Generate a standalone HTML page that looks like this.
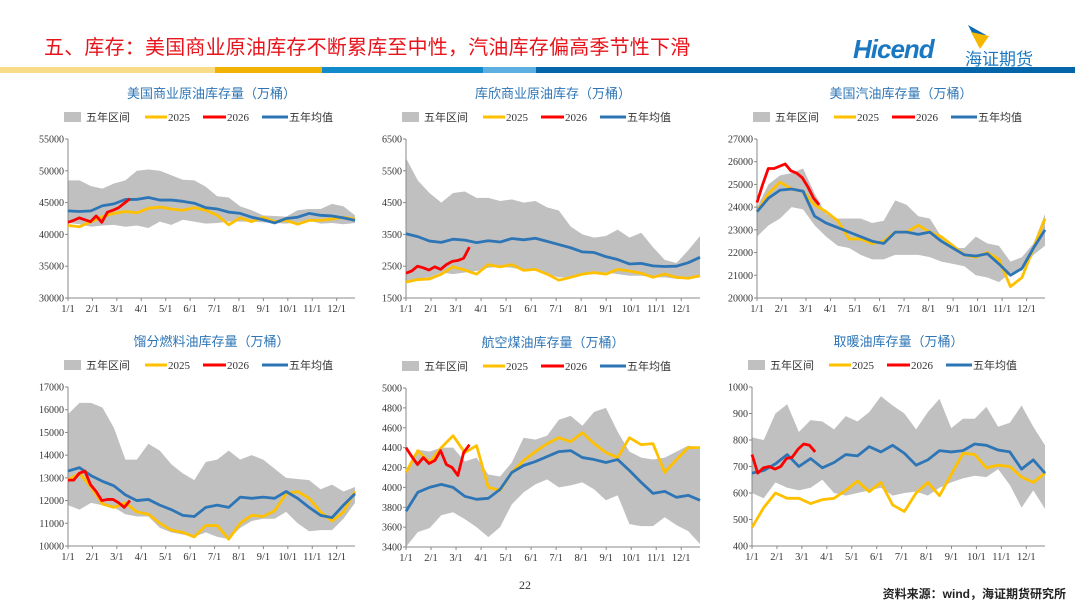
<!DOCTYPE html>
<html><head><meta charset="utf-8">
<style>
html,body{margin:0;padding:0;background:#fff;}
body{width:1080px;height:607px;position:relative;overflow:hidden;font-family:"Liberation Sans","Noto Sans CJK SC",sans-serif;}
.abs{position:absolute;}
</style></head>
<body>
<div class="abs" style="left:44px;top:31px;font-size:20px;color:#e8141c;font-family:'Liberation Sans','Noto Sans CJK SC',sans-serif;white-space:nowrap;letter-spacing:0.2px;">五、库存：美国商业原油库存不断累库至中性，汽油库存偏高季节性下滑</div>
<div class="abs" style="left:850px;top:20px;width:220px;height:45px;">
  <svg width="220" height="45"><polygon points="118,5 136,15 129,26" fill="#0a6ab4"/><polygon points="121,12 139,16 130,29" fill="#f5b800"/></svg>
  <div class="abs" style="left:3px;top:14px;font-size:26px;font-style:italic;font-weight:bold;color:#1a78c2;letter-spacing:-1px;">Hicend</div>
  <div class="abs" style="left:115px;top:25px;font-size:17px;color:#1a78c2;">海证期货</div>
</div>
<div class="abs" style="left:0;top:67px;width:1080px;height:6px;">
  <div class="abs" style="left:0;width:215px;height:6px;background:#f9dc8a"></div>
  <div class="abs" style="left:215px;width:107px;height:6px;background:#f2b200"></div>
  <div class="abs" style="left:322px;width:161px;height:6px;background:#108ac8"></div>
  <div class="abs" style="left:483px;width:53px;height:6px;background:#5cafe0"></div>
  <div class="abs" style="left:536px;width:539px;height:6px;background:#0366a8"></div>
</div>
<svg id="charts" class="abs" style="left:0;top:0" width="1080" height="607"></svg>
<div class="abs" style="left:519px;top:578px;font-size:12px;color:#333;font-family:'Liberation Serif',serif;">22</div>
<div class="abs" style="right:14px;top:585px;font-size:12px;color:#222;font-weight:bold;">资料来源：wind，海证期货研究所</div>
<script>
const months=["1/1","2/1","3/1","4/1","5/1","6/1","7/1","8/1","9/1","10/1","11/1","12/1"];
// Panel 1: US commercial crude
const p1Ticks=[30000,35000,40000,45000,50000,55000];
const p1Lo=[41800,41600,41200,41400,41500,41200,41400,41000,42000,41500,42300,42000,41700,41800,42000,42000,42000,41900,41800,41700,41900,42200,41700,41800,41600,41800];
const p1Hi=[48500,48500,47600,47200,48000,48500,50000,50200,50000,49300,48600,48500,47500,46000,45800,44400,43800,43000,42900,42800,43800,44000,44000,44800,44400,43000];
const p1Y2025=[41400,41200,42000,42800,43300,43600,43400,44100,44300,44000,43800,44200,43800,43000,41500,42600,42000,42700,42000,42200,41600,42200,42200,42400,42700,42400];
const p1Avg=[43700,43600,43700,44500,44800,45500,45500,45800,45400,45400,45200,44900,44200,44000,43500,43300,42700,42300,41800,42500,42700,43300,43000,42900,42600,42200];
const p1Y2026=[41900,42200,42600,42300,42000,42900,41900,43500,43800,44200,44900,45600];
// Panel 2: Cushing
const p2Ticks=[1500,2500,3500,4500,5500,6500];
const p2Lo=[2000,2100,2150,2300,2250,2300,2350,2450,2480,2450,2380,2400,2250,2150,2150,2250,2250,2300,2250,2200,2200,2150,2150,2100,2100,2150];
const p2Hi=[5900,5200,4800,4500,4800,4850,4650,4650,4550,4600,4500,4550,4350,4250,3750,3500,3400,3450,3650,3400,3550,3100,2700,2600,3000,3450];
const p2Y2025=[2000,2080,2100,2250,2480,2380,2250,2550,2480,2550,2370,2400,2250,2060,2150,2250,2300,2250,2400,2350,2280,2150,2250,2150,2120,2200];
const p2Avg=[3520,3430,3290,3250,3350,3320,3240,3300,3260,3370,3330,3380,3280,3180,3080,2950,2930,2800,2710,2570,2590,2510,2490,2500,2610,2780];
const p2Y2026=[2280,2350,2500,2450,2380,2480,2400,2550,2650,2680,2750,3100];
// Panel 3: gasoline
const p3Ticks=[20000,21000,22000,23000,24000,25000,26000,27000];
const p3Lo=[22700,23200,23500,24000,23900,23200,22700,22300,22200,21900,21700,21700,21900,21900,21900,21800,21600,21500,21400,21000,20900,20700,21100,21200,21900,22300];
const p3Hi=[24000,25000,25400,25500,25700,24600,23700,23500,23500,23500,23300,23400,24300,24100,23600,23500,22700,22200,22200,22700,22400,22300,21600,21800,22400,23700];
const p3Y2025=[23800,24600,25100,24800,24700,24100,23800,23400,22600,22600,22400,22500,22900,22900,23200,22900,22700,22300,21900,21800,22000,21700,20500,20900,22200,23500];
const p3Avg=[23800,24400,24750,24800,24700,23600,23300,23100,22900,22700,22500,22400,22900,22900,22800,22900,22500,22200,21900,21850,21950,21500,21000,21300,22200,23000];
const p3Y2026=[24200,25000,25700,25700,25800,25900,25600,25500,25300,24900,24400,24100];
// Panel 4: distillate
const p4Ticks=[10000,11000,12000,13000,14000,15000,16000,17000];
const p4Lo=[11800,11600,11900,11800,11700,11400,11300,11300,10800,10600,10500,10400,10600,10400,10300,10800,11100,11200,11200,11500,11000,10650,10700,10700,11200,11900];
const p4Hi=[15800,16300,16300,16100,15200,13800,13800,14500,14200,13600,13200,12900,13700,13800,14200,13800,14000,13800,13400,13000,12950,12900,12500,12700,12400,12600];
const p4Y2025=[12900,13200,12600,11850,11700,11900,11500,11400,11000,10700,10600,10400,10900,10900,10300,11000,11350,11300,11550,12300,12400,12100,11500,11100,11500,12400];
const p4Avg=[13300,13450,13100,12850,12650,12250,12000,12050,11800,11600,11350,11300,11700,11800,11700,12150,12100,12150,12100,12400,12100,11700,11350,11250,11800,12300];
const p4Y2026=[12900,12900,13200,13300,12700,12400,12000,12050,12050,11900,11700,12000];
// Panel 5: jet fuel
const p5Ticks=[3400,3600,3800,4000,4200,4400,4600,4800,5000];
const p5Lo=[3400,3550,3590,3720,3750,3680,3600,3500,3600,3830,3950,4030,4080,4000,4020,4050,3980,3870,3920,3630,3610,3610,3700,3620,3560,3430];
const p5Hi=[4150,4380,4360,4400,4400,4260,4300,4130,4110,4250,4500,4480,4520,4680,4720,4620,4760,4800,4560,4360,4300,4280,4300,4360,4420,4400];
const p5Y2025=[4150,4370,4250,4400,4520,4350,4420,4000,3970,4150,4270,4360,4440,4500,4460,4550,4440,4350,4300,4500,4430,4440,4150,4280,4400,4400];
const p5Avg=[3760,3950,4000,4030,4000,3910,3880,3890,3980,4150,4220,4260,4310,4360,4370,4300,4280,4250,4280,4170,4050,3940,3960,3900,3920,3870];
const p5Y2026=[4400,4310,4230,4300,4240,4270,4370,4230,4200,4120,4350,4430];
// Panel 6: heating oil
const p6Ticks=[400,500,600,700,800,900,1000];
const p6Lo=[600,580,640,620,610,620,650,600,590,600,610,620,590,600,605,590,620,640,655,665,660,690,630,545,610,540];
const p6Hi=[810,800,900,935,830,875,870,840,890,870,905,965,930,900,840,905,955,845,880,880,925,850,865,930,850,780];
const p6Y2025=[470,545,600,580,580,560,575,580,610,645,605,640,555,530,600,640,590,670,750,745,695,705,700,660,640,675];
const p6Avg=[675,685,710,745,700,730,695,715,745,740,775,755,780,750,705,725,760,755,760,785,780,762,755,690,725,675];
const p6Y2026=[745,675,695,700,690,700,730,735,765,785,780,755];

const NS="http://www.w3.org/2000/svg";
const root=document.getElementById('charts');
function mk(tag,attrs,parent){const e=document.createElementNS(NS,tag);for(const k in attrs)e.setAttribute(k,attrs[k]);(parent||root).appendChild(e);return e;}

function chart(key,title,x0,x1,yTop,yBot,ticks,lo,hi,y25,avg,y26){
  const g=mk('g',{});
  
  
  const vmin=ticks[0],vmax=ticks[ticks.length-1];
  const yS=v=>yBot-(v-vmin)/(vmax-vmin)*(yBot-yTop);
  const n=lo.length;
  const xS=i=>x0+i*(x1-x0)/(n-1);
  const cx=(x0+x1)/2;
  const t=mk('text',{x:cx,y:yTop-41,'text-anchor':'middle','font-size':13,fill:'#2e75b6','font-family':'Liberation Sans,Noto Sans CJK SC,sans-serif'},g);
  t.textContent=title;
  
  
  const ly=yTop-22, lx=x0-4;
  const lg=mk('g',{'font-size':11,fill:'#333','font-family':'Liberation Serif,Noto Sans CJK SC,serif'},g);
  
  
  mk('rect',{x:lx,y:ly-5,width:17,height:10,fill:'#c0c0c0'},lg);
  let tx=mk('text',{x:lx+22,y:ly+4},lg);tx.textContent='五年区间';
  mk('line',{x1:lx+81,x2:lx+103,y1:ly,y2:ly,stroke:'#ffc000','stroke-width':3},lg);
  tx=mk('text',{x:lx+104,y:ly+4},lg);tx.textContent='2025';
  mk('line',{x1:lx+139,x2:lx+162,y1:ly,y2:ly,stroke:'#ff0000','stroke-width':3},lg);
  tx=mk('text',{x:lx+163,y:ly+4},lg);tx.textContent='2026';
  mk('line',{x1:lx+198,x2:lx+224,y1:ly,y2:ly,stroke:'#2e75b6','stroke-width':3},lg);
  tx=mk('text',{x:lx+225,y:ly+4},lg);tx.textContent='五年均值';
  let d='M'+lo.map((v,i)=>xS(i)+','+yS(hi[i])).join('L');
  for(let i=n-1;i>=0;i--)d+='L'+xS(i)+','+yS(lo[i]);
  const band=mk('path',{d:d+'Z',fill:'#c0c0c0'},g);
  
  
  mk('line',{x1:x0,x2:x0,y1:yTop,y2:yBot,stroke:'#888','stroke-width':1},g);
  mk('line',{x1:x0,x2:x1,y1:yBot,y2:yBot,stroke:'#888','stroke-width':1},g);
  ticks.forEach(v=>{
    mk('line',{x1:x0-3,x2:x0,y1:yS(v),y2:yS(v),stroke:'#888'},g);
    const tt=mk('text',{x:x0-4,y:yS(v)+3.5,'text-anchor':'end','font-size':10,fill:'#333','font-family':'Liberation Serif,serif'},g);
    tt.textContent=v;
    
    
  });
  const mw=(x1-x0)*12/11.75/12;
  months.forEach((m,i)=>{
    const xx=x0+i*mw;
    mk('line',{x1:xx,x2:xx,y1:yBot,y2:yBot+3,stroke:'#888'},g);
    const tt=mk('text',{x:xx,y:yBot+14,'text-anchor':'middle','font-size':10.5,fill:'#333','font-family':'Liberation Serif,serif'},g);
    tt.textContent=m;
    
    
  });
  const line=(arr,xf,col,name)=>{
    const p=mk('polyline',{points:arr.map((v,i)=>xf(i)+','+yS(v)).join(' '),fill:'none',stroke:col,'stroke-width':2.8,'stroke-linejoin':'round'},g);
    
    
  };
  line(y25,xS,'#ffc000',key+'-line-2025');
  line(avg,xS,'#2e75b6',key+'-line-5yr-avg');
  line(y26,i=>x0+i*(x1-x0)/51,'#ff0000',key+'-line-2026');
}
chart('us-crude','美国商业原油库存量（万桶）',68,355,139,298,p1Ticks,p1Lo,p1Hi,p1Y2025,p1Avg,p1Y2026);
chart('cushing','库欣商业原油库存（万桶）',406,700,139,298,p2Ticks,p2Lo,p2Hi,p2Y2025,p2Avg,p2Y2026);
chart('gasoline','美国汽油库存量（万桶）',757,1045,139,298,p3Ticks,p3Lo,p3Hi,p3Y2025,p3Avg,p3Y2026);
chart('distillate','馏分燃料油库存量（万桶）',68,355,387,546,p4Ticks,p4Lo,p4Hi,p4Y2025,p4Avg,p4Y2026);
chart('jet-fuel','航空煤油库存量（万桶）',406,700,388,547,p5Ticks,p5Lo,p5Hi,p5Y2025,p5Avg,p5Y2026);
chart('heating-oil','取暖油库存量（万桶）',752,1045,387,546,p6Ticks,p6Lo,p6Hi,p6Y2025,p6Avg,p6Y2026);
</script>
</body></html>
